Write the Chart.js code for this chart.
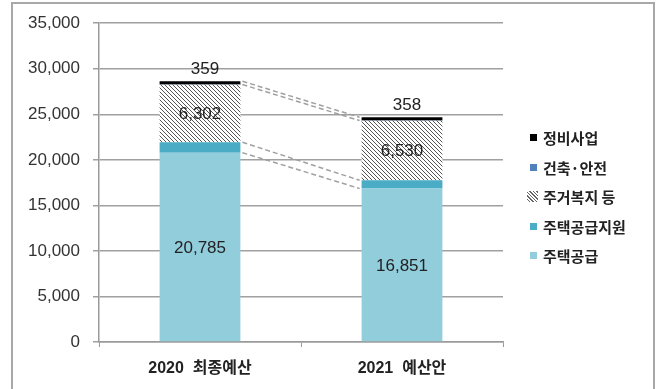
<!DOCTYPE html>
<html>
<head>
<meta charset="utf-8">
<script src="https://cdn.jsdelivr.net/npm/chart.js@4.4.1/dist/chart.umd.min.js"></script>
<style>
  html, body { margin: 0; padding: 0; background: #fff; }
  #wrap { position: relative; width: 658px; height: 389px; overflow: hidden; }
  #frame { position: absolute; left: 11px; top: 2px; width: 640px; height: 400px;
           border: 2px solid #a8a8a8; border-bottom: none; pointer-events: none; }
  #legend { position: absolute; left: 530px; top: 123px;
            font: bold 15px "Noto Sans CJK KR", sans-serif; color: #222; }
  #legend .item { height: 29.5px; display: flex; align-items: center; white-space: nowrap; }
  #legend .box { width: 7px; height: 7px; margin-right: 6px; flex: none; }
  #legend .hatch { width: 11px; height: 11px; margin-left: -3px; margin-right: 5px;
                   background: repeating-linear-gradient(45deg, #fff 0 1.5px, #666 1.5px 2.5px); }
</style>
</head>
<body>
<div id="wrap">
  <canvas id="chart" width="658" height="389"></canvas>
  <div id="frame"></div>
  <div id="legend"></div>
</div>
<script>
// 카테고리 / 시리즈 (단위: 억원)
const categories = ['2020  최종예산', '2021  예산안'];
const housingSupply = [20785, 16851];   // 주택공급
const supplySupport = [1150, 900];      // 주택공급지원
const welfare       = [6302, 6530];     // 주거복지 등
const safety        = [30, 30];         // 건축·안전
const redevelop     = [359, 358];       // 정비사업
const yTicks = [0, 5000, 10000, 15000, 20000, 25000, 30000, 35000];

const NUM_FONT = '"Liberation Sans", Arial, sans-serif';
const KR_FONT = '"Liberation Sans", "Noto Sans CJK KR", sans-serif';

function makeHatch() {
  const c = document.createElement('canvas');
  c.width = 4; c.height = 4;
  const g = c.getContext('2d');
  g.fillStyle = '#fff';
  g.fillRect(0, 0, 4, 4);
  g.strokeStyle = '#555';
  g.lineWidth = 1;
  g.beginPath();
  g.moveTo(-1, -1); g.lineTo(5, 5);
  g.moveTo(-1, 3); g.lineTo(1, 5);
  g.moveTo(3, -1); g.lineTo(5, 1);
  g.stroke();
  return g.createPattern(c, 'repeat');
}

const series = [
  { label: '주택공급',     data: housingSupply, color: '#92cddc', showValue: 'center' },
  { label: '주택공급지원', data: supplySupport, color: '#4bacc6' },
  { label: '주거복지 등',  data: welfare,       color: null,      showValue: 'center' },
  { label: '건축·안전',    data: safety,        color: '#4f81bd' },
  { label: '정비사업',     data: redevelop,     color: '#000000', showValue: 'top' }
];

const fmt = v => v.toLocaleString('en-US');

// 막대 사이 점선 연결
const connectorPlugin = {
  id: 'connectors',
  afterDatasetsDraw(chart) {
    const { ctx } = chart;
    const y = chart.scales.y;
    const m0 = chart.getDatasetMeta(0);
    const a = m0.data[0], b = m0.data[1];
    const x1 = a.x + a.width / 2, x2 = b.x - b.width / 2;
    const cum = idx => {
      let s = [0, 0];
      for (let k = 0; k <= idx; k++) { s[0] += series[k].data[0]; s[1] += series[k].data[1]; }
      return s;
    };
    const levels = [0, 1, 3, 4];
    ctx.save();
    ctx.strokeStyle = '#a0a0a0';
    ctx.lineWidth = 1.5;
    ctx.setLineDash([5, 3]);
    levels.forEach(l => {
      const s = cum(l);
      ctx.beginPath();
      ctx.moveTo(x1 + 2, y.getPixelForValue(s[0]));
      ctx.lineTo(x2 - 2, y.getPixelForValue(s[1]));
      ctx.stroke();
    });
    ctx.restore();
  }
};

// 값 라벨
const valuePlugin = {
  id: 'values',
  afterDatasetsDraw(chart) {
    const { ctx } = chart;
    ctx.save();
    ctx.font = '17px ' + NUM_FONT;
    ctx.fillStyle = '#222';
    ctx.textAlign = 'center';
    series.forEach((s, di) => {
      if (!s.showValue) return;
      chart.getDatasetMeta(di).data.forEach((bar, i) => {
        const v = s.data[i];
        if (s.showValue === 'top') {
          ctx.textBaseline = 'bottom';
          ctx.fillText(fmt(v), bar.x + 5, bar.y - 3);
        } else {
          ctx.textBaseline = 'middle';
          ctx.fillText(fmt(v), bar.x, (bar.y + bar.base) / 2 + 1);
        }
      });
    });
    ctx.restore();
  }
};

const hatch = makeHatch();

const chart = new Chart(document.getElementById('chart'), {
  type: 'bar',
  data: {
    labels: categories,
    datasets: series.map(s => ({
      label: s.label,
      data: s.data,
      backgroundColor: s.color || hatch,
      borderWidth: 0,
      categoryPercentage: 1,
      barPercentage: 0.4
    }))
  },
  options: {
    responsive: false,
    animation: false,
    devicePixelRatio: 1,
    layout: { padding: { top: 22, right: 155, bottom: 0, left: 0 } },
    plugins: {
      legend: { display: false },
      tooltip: { enabled: false }
    },
    scales: {
      x: {
        stacked: true,
        grid: { drawOnChartArea: false, drawTicks: true, tickLength: 5, color: '#9a9a9a' },
        border: { color: '#9a9a9a', width: 1.5 },
        ticks: { color: '#222', padding: 12, font: { family: KR_FONT, size: 16, weight: 'bold' } },
        afterFit: s => { s.height = 47; }
      },
      y: {
        stacked: true,
        min: 0,
        max: 35000,
        afterBuildTicks: s => { s.ticks = yTicks.map(v => ({ value: v })); },
        grid: { color: '#a0a0a0', lineWidth: 1.5, tickLength: 6 },
        border: { color: '#9a9a9a', width: 1.5 },
        ticks: { color: '#333', padding: 13, font: { family: NUM_FONT, size: 17 }, callback: v => fmt(v) },
        afterFit: s => { s.width = 99; }
      }
    }
  },
  plugins: [connectorPlugin, valuePlugin]
});

// 범례 (위에서부터 정비사업 → 주택공급)
const legendEl = document.getElementById('legend');
series.slice().reverse().forEach(s => {
  const item = document.createElement('div');
  item.className = 'item';
  const box = document.createElement('span');
  box.className = s.color ? 'box' : 'hatch';
  if (s.color) box.style.background = s.color;
  const txt = document.createElement('span');
  txt.textContent = s.label;
  item.appendChild(box);
  item.appendChild(txt);
  legendEl.appendChild(item);
});
</script>
</body>
</html>
